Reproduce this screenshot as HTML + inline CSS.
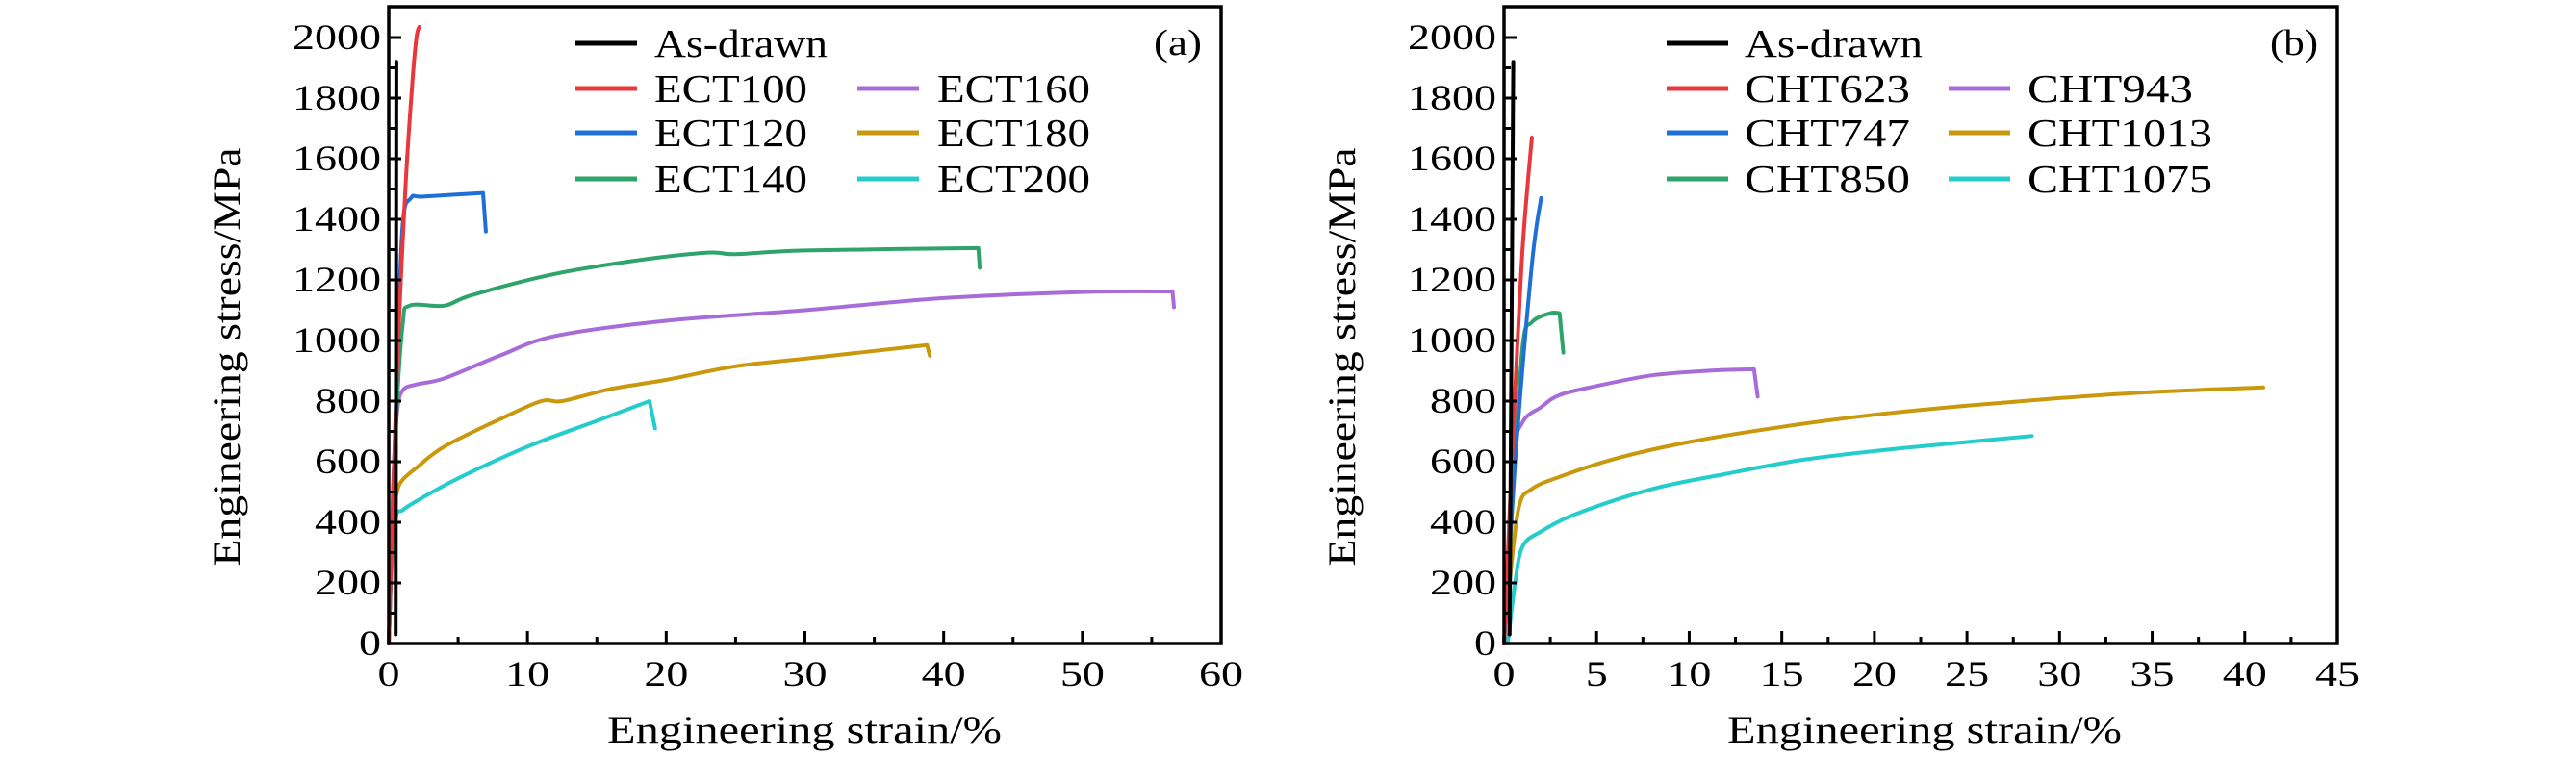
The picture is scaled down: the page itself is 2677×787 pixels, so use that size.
<!DOCTYPE html>
<html><head><meta charset="utf-8"><style>
html,body{margin:0;padding:0;background:#fff;}
svg{display:block;}
text{font-family:"Liberation Serif",serif;fill:#000;}
</style></head><body>
<svg id="s" width="2677" height="787" xmlns="http://www.w3.org/2000/svg"></svg>
<script>
const s=document.getElementById('s');let h='';
const C={k:'#000',r:'#e8383d',b:'#1f6fd6',g:'#2ea36a',p:'#a86cd8',y:'#c9980c',c:'#24cccc'};
function smooth(P){ // catmull-rom to bezier
 let d=`M${P[0][0].toFixed(1)},${P[0][1].toFixed(1)}`;
 for(let i=0;i<P.length-1;i++){const p0=P[i-1]||P[i],p1=P[i],p2=P[i+1],p3=P[i+2]||p2;
  const c1=[p1[0]+(p2[0]-p0[0])/6,p1[1]+(p2[1]-p0[1])/6],c2=[p2[0]-(p3[0]-p1[0])/6,p2[1]-(p3[1]-p1[1])/6];
  d+=` C${c1[0].toFixed(1)},${c1[1].toFixed(1)} ${c2[0].toFixed(1)},${c2[1].toFixed(1)} ${p2[0].toFixed(1)},${p2[1].toFixed(1)}`;}
 return d;}
function panel(x0,x1,xmax,xmaj,xmin,tag,legend,curves,yl,xlc,legX){
 const y0=669,yt=7,sy=0.315,sx=(x1-x0)/xmax;
 const X=v=>x0+v*sx,Y=v=>y0-v*sy;
 for(const [col,pts,drop] of curves){
  const P=pts.map(p=>[X(p[0]),Y(p[1])]);
  let d=smooth(P);
  if(drop)d+=` L${X(drop[0]).toFixed(1)},${Y(drop[1]).toFixed(1)}`;
  h+=`<path d="${d}" fill="none" stroke="${C[col]}" stroke-width="4" stroke-linejoin="round" stroke-linecap="round"/>`;
 }
 h+=`<rect x="${x0}" y="${yt}" width="${x1-x0}" height="${y0-yt}" fill="none" stroke="#000" stroke-width="3.5"/>`;
 for(let v=0;v<=2000;v+=100){const y=Y(v);h+=`<line x1="${x0}" x2="${x0+(v%200?7:13)}" y1="${y}" y2="${y}" stroke="#000" stroke-width="3"/>`;
  if(v%200==0){const t=String(v);h+=`<text x="${x0-8}" y="${y+12}" font-size="37" text-anchor="end" textLength="${t.length*23}" lengthAdjust="spacingAndGlyphs">${t}</text>`;}}
 for(let v=0;v<=xmax+1e-6;v+=xmin){const x=X(v);const maj=Math.abs(v/xmaj-Math.round(v/xmaj))<1e-6;
  h+=`<line x1="${x}" x2="${x}" y1="${y0}" y2="${y0-(maj?13:7)}" stroke="#000" stroke-width="3"/>`;
  if(maj){const t=String(Math.round(v));h+=`<text x="${x}" y="713" font-size="37" text-anchor="middle" textLength="${t.length*23}" lengthAdjust="spacingAndGlyphs">${t}</text>`;}}
 h+=`<text transform="translate(${yl},371) rotate(-90)" font-size="40" text-anchor="middle" textLength="435" lengthAdjust="spacingAndGlyphs">Engineering stress/MPa</text>`;
 h+=`<text x="${xlc}" y="772" font-size="40" text-anchor="middle" textLength="410" lengthAdjust="spacingAndGlyphs">Engineering strain/%</text>`;
 h+=`<text x="${x1-20}" y="57" font-size="38" text-anchor="end" textLength="50" lengthAdjust="spacingAndGlyphs">${tag}</text>`;
 const rows=[45,92,138,186];
 legend.forEach((L,i)=>{const col=i==0?0:(i<=3?0:1);const row=i==0?0:(i<=3?i:i-3);
  const lx=legX[col*2],tx=legX[col*2+1],y=rows[row];
  h+=`<line x1="${lx}" x2="${lx+64}" y1="${y}" y2="${y}" stroke="${C[L[0]]}" stroke-width="5"/>`;
  h+=`<text x="${tx}" y="${y+14}" font-size="41" textLength="${L[2]}" lengthAdjust="spacingAndGlyphs">${L[1]}</text>`;});
}
panel(404,1269,60,10,5,'(a)',
 [['k','As-drawn',180],['r','ECT100',159],['b','ECT120',159],['g','ECT140',159],['p','ECT160',159],['y','ECT180',159],['c','ECT200',159]],
 [
 ['c',[[0,0],[0.2,250],[0.5,415],[1,440],[2,470],[5,545],[10,650],[15,735],[18.8,800]],[19.2,710]],
 ['y',[[0,0],[0.3,400],[0.6,500],[1,540],[2,580],[4,650],[8,740],[11,800],[12.5,800],[16,840],[20,870],[25,915],[30,940],[38.8,985]],[39,950]],
 ['p',[[0,0],[0.3,500],[0.6,760],[1,835],[2,855],[4,875],[8,950],[12,1015],[20,1065],[30,1100],[40,1140],[50,1160],[56.5,1162]],[56.6,1110]],
 ['g',[[0,0],[0.5,700],[1,1050],[1.5,1115],[4,1115],[6,1150],[12,1220],[18,1265],[23,1290],[25,1285],[30,1297],[42.5,1305]],[42.6,1240]],
 ['b',[[0,0],[0.6,900],[1,1380],[1.6,1470],[2.5,1475],[6.8,1487]],[7,1360]],
 ['r',[[0,0],[0.6,900],[1.2,1500],[1.7,1850],[2,2000],[2.2,2035]]],
 ['k',[[0.5,30],[0.55,1920]]]
 ],249,836,[598,680,891,974]);
panel(1563,2429,45,5,2.5,'(b)',
 [['k','As-drawn',185],['r','CHT623',172],['b','CHT747',172],['g','CHT850',172],['p','CHT943',172],['y','CHT1013',192],['c','CHT1075',192]],
 [
 ['c',[[0.2,0],[0.6,200],[1,320],[2,370],[4,430],[8,510],[12,560],[16,605],[20,635],[25,665],[28.5,685]]],
 ['y',[[0,0],[0.3,200],[0.8,450],[1.5,510],[3,550],[6,610],[10,665],[15,715],[20,755],[25,785],[30,810],[35,830],[41,845]]],
 ['p',[[0,0],[0.5,600],[1,730],[2,780],[3,820],[5,850],[8,885],[11,900],[13.5,905]],[13.7,815]],
 ['g',[[0,0],[0.5,500],[1,980],[1.5,1060],[2.5,1090],[3,1090]],[3.2,960]],
 ['b',[[0,0],[0.6,600],[1.5,1250],[2,1470]]],
 ['r',[[0,0],[0.5,700],[1,1300],[1.5,1670]]],
 ['k',[[0.3,30],[0.5,1920]]]
 ],1408,2000,[1732,1813,2025,2107]);
s.innerHTML=h;
</script>
</body></html>
